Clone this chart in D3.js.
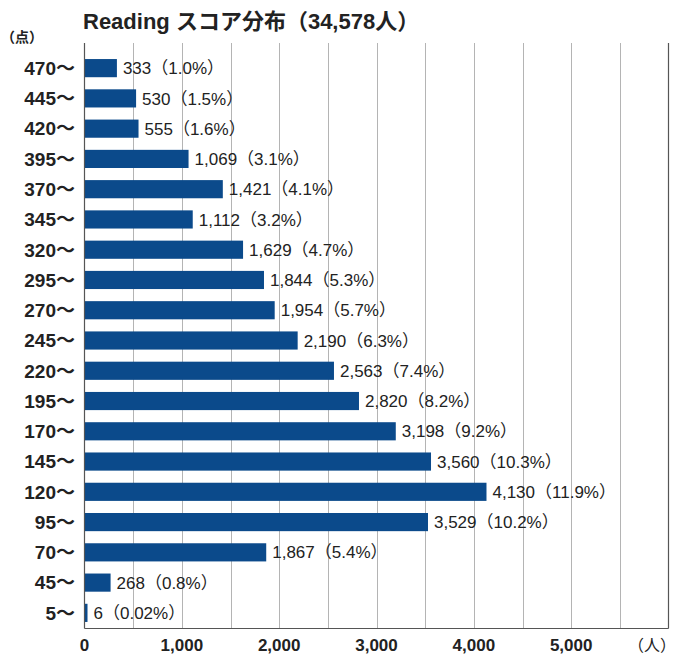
<!DOCTYPE html>
<html><head><meta charset="utf-8">
<script src="https://cdn.jsdelivr.net/npm/d3@7/dist/d3.min.js"></script>
<style>
body{margin:0;background:#fff;}
svg{display:block;font-family:"Liberation Sans","Noto Sans CJK JP",sans-serif;}
</style></head><body>
<svg id="c" width="683" height="654"></svg>
<script>
const categories = ["470～","445～","420～","395～","370～","345～","320～","295～","270～","245～","220～","195～","170～","145～","120～","95～","70～","45～","5～"];
const counts = [333,530,555,1069,1421,1112,1629,1844,1954,2190,2563,2820,3198,3560,4130,3529,1867,268,6];
const percents = ["1.0","1.5","1.6","3.1","4.1","3.2","4.7","5.3","5.7","6.3","7.4","8.2","9.2","10.3","11.9","10.2","5.4","0.8","0.02"];
const xTicks = [0,1000,2000,3000,4000,5000];
const gridVals = [500,1000,1500,2000,2500,3000,3500,4000,4500,5000,5500];

const svg = d3.select("#c");
const pL = 84.5, pR = 668.5, pT = 43, pB = 628.5;
const x = d3.scaleLinear().domain([0,6000]).range([pL,pR]);
const y = d3.scaleBand().domain(categories).range([53,628]).paddingInner(0.4).paddingOuter(0.2);

// gridlines
svg.append("g").selectAll("line").data(gridVals).join("line")
  .attr("x1",d=>Math.round(x(d))+0.5).attr("x2",d=>Math.round(x(d))+0.5)
  .attr("y1",pT).attr("y2",pB)
  .attr("stroke","#b4b4b4").attr("stroke-width",1);

// bars
svg.append("g").selectAll("rect").data(counts).join("rect")
  .attr("x",x(0)).attr("y",(d,i)=>y(categories[i]))
  .attr("width",d=>Math.max(x(d)-x(0),3)).attr("height",y.bandwidth())
  .attr("fill","#0b4a8b");

// axis frame
svg.append("line").attr("x1",pL).attr("x2",pL).attr("y1",pT).attr("y2",pB).attr("stroke","#555").attr("stroke-width",1.2);
svg.append("line").attr("x1",pR).attr("x2",pR).attr("y1",pT).attr("y2",pB).attr("stroke","#555").attr("stroke-width",1.2);
svg.append("line").attr("x1",pL).attr("x2",pR).attr("y1",pB).attr("y2",pB).attr("stroke","#555").attr("stroke-width",1.2);

// value labels
svg.append("g").selectAll("text").data(counts).join("text")
  .attr("x",d=>Math.max(x(d),x(0)+3)+6)
  .attr("y",(d,i)=>y(categories[i])+y.bandwidth()/2)
  .attr("dy","0.36em").attr("font-size",17).attr("fill","#222")
  .text((d,i)=>d3.format(",")(d)+"（"+percents[i]+"%）");

// category labels
svg.append("g").selectAll("text").data(categories).join("text")
  .attr("x",75).attr("y",d=>y(d)+y.bandwidth()/2).attr("dy","0.36em")
  .attr("text-anchor","end").attr("font-size",19).attr("font-weight","bold").attr("fill","#222")
  .text(d=>d);

// x tick labels
svg.append("g").selectAll("text").data(xTicks).join("text")
  .attr("x",d=>x(d)).attr("y",651).attr("text-anchor","middle")
  .attr("font-size",17).attr("font-weight","bold").attr("fill","#222")
  .text(d=>d3.format(",")(d));

// units
svg.append("text").attr("x",652).attr("y",651).attr("text-anchor","middle").attr("font-size",16).attr("fill","#222").text("（人）");
svg.append("text").attr("x",22).attr("y",42).attr("text-anchor","middle").attr("font-size",14).attr("font-weight","bold").attr("fill","#222").text("（点）");
svg.append("text").attr("x",9).attr("y",376).attr("text-anchor","end").attr("font-size",15).attr("fill","#222").text("（%）");

// title
svg.append("text").attr("x",83).attr("y",29).attr("font-size",22).attr("font-weight","bold").attr("fill","#222").text("Reading スコア分布（34,578人）");
</script>
</body></html>
